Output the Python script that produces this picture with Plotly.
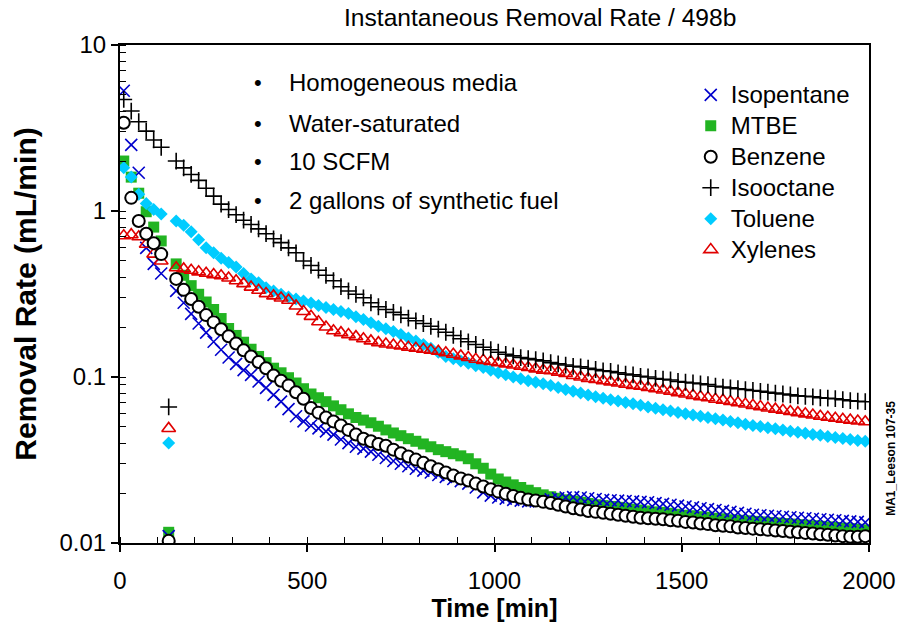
import plotly.graph_objects as go

# Time grid [min]
time_min = list(range(10, 2000, 20))

isopentane = [5.3, 2.5, 1.7, 0.6, 0.48, 0.42, 0.011, 0.33, 0.28, 0.24,
              0.21, 0.185, 0.163, 0.146, 0.131, 0.12, 0.11, 0.103, 0.094, 0.086,
              0.078, 0.071, 0.064, 0.058, 0.054, 0.051, 0.049, 0.047, 0.045, 0.042,
              0.04, 0.038, 0.037, 0.0355, 0.034, 0.0325, 0.0312, 0.030, 0.029, 0.028,
              0.0273, 0.0266, 0.0257, 0.025, 0.0243, 0.0236, 0.0228, 0.0216, 0.0202, 0.0193,
              0.0188, 0.0185, 0.0182, 0.018, 0.0178, 0.0178, 0.018, 0.0183, 0.0186, 0.0188,
              0.0189, 0.0188, 0.0186, 0.0184, 0.0182, 0.0181, 0.018, 0.0179, 0.0178, 0.0177,
              0.0176, 0.0174, 0.0172, 0.017, 0.0168, 0.0166, 0.0164, 0.0162, 0.016, 0.0158,
              0.0156, 0.0154, 0.0152, 0.015, 0.0148, 0.0147, 0.0146, 0.0145, 0.0144, 0.0143,
              0.0142, 0.0141, 0.014, 0.0139, 0.0138, 0.0137, 0.0136, 0.0135, 0.0134, 0.0133]

mtbe = [2.0, 1.6, 1.28, 0.99, 0.80, 0.66, 0.0116, 0.48, 0.41, 0.355,
        0.315, 0.283, 0.255, 0.225, 0.196, 0.178, 0.162, 0.147, 0.133, 0.122,
        0.113, 0.106, 0.099, 0.092, 0.085, 0.079, 0.075, 0.071, 0.067, 0.0635,
        0.060, 0.057, 0.055, 0.053, 0.0505, 0.048, 0.046, 0.0443, 0.0425, 0.041,
        0.0395, 0.038, 0.0365, 0.0355, 0.0345, 0.0335, 0.0322, 0.030, 0.0282, 0.026,
        0.0243, 0.0233, 0.0224, 0.0216, 0.0208, 0.0201, 0.0195, 0.019, 0.0186, 0.0182,
        0.0179, 0.0176, 0.0173, 0.017, 0.0168, 0.0166, 0.0164, 0.0162, 0.016, 0.0158,
        0.0156, 0.0154, 0.0153, 0.0151, 0.0149, 0.0147, 0.0146, 0.0144, 0.0143, 0.0141,
        0.014, 0.0138, 0.0137, 0.0136, 0.0135, 0.0134, 0.0133, 0.0132, 0.0131, 0.013,
        0.0129, 0.0128, 0.0127, 0.0126, 0.0125, 0.0124, 0.0123, 0.0122, 0.0121, 0.012]

benzene = [3.4, 1.2, 0.87, 0.73, 0.64, 0.55, 0.0103, 0.39, 0.335, 0.295,
           0.265, 0.236, 0.214, 0.194, 0.176, 0.159, 0.145, 0.133, 0.123, 0.113,
           0.102, 0.095, 0.089, 0.081, 0.074, 0.065, 0.061, 0.057, 0.054, 0.051,
           0.048, 0.045, 0.0425, 0.041, 0.0395, 0.0385, 0.0365, 0.0347, 0.0332, 0.0318,
           0.0304, 0.029, 0.0278, 0.0266, 0.0255, 0.0245, 0.0238, 0.0228, 0.0219, 0.0211,
           0.0204, 0.0198, 0.0192, 0.0187, 0.0183, 0.018, 0.0177, 0.0174, 0.017, 0.0166,
           0.0162, 0.0159, 0.0156, 0.0154, 0.0152, 0.015, 0.0148, 0.0146, 0.0144, 0.0142,
           0.0141, 0.014, 0.0139, 0.0137, 0.0136, 0.0134, 0.0133, 0.0131, 0.013, 0.0128,
           0.0127, 0.0126, 0.0124, 0.0123, 0.0122, 0.0121, 0.012, 0.0119, 0.0118, 0.0117,
           0.0116, 0.0115, 0.0114, 0.0113, 0.0112, 0.0111, 0.011, 0.0109, 0.0109, 0.011]

isooctane = [4.7, 4.0, 3.45, 3.03, 2.68, 2.42, 0.066, 2.0, 1.82, 1.66,
             1.53, 1.37, 1.23, 1.10, 1.02, 0.95, 0.88, 0.83, 0.78, 0.73,
             0.68, 0.645, 0.60, 0.56, 0.50, 0.47, 0.44, 0.41, 0.38, 0.35,
             0.33, 0.315, 0.30, 0.28, 0.265, 0.255, 0.245, 0.237, 0.226, 0.218,
             0.21, 0.202, 0.194, 0.186, 0.178, 0.170, 0.163, 0.157, 0.151, 0.146,
             0.141, 0.137, 0.134, 0.131, 0.129, 0.127, 0.125, 0.122, 0.120, 0.118,
             0.116, 0.115, 0.113, 0.111, 0.109, 0.108, 0.106, 0.104, 0.103, 0.101,
             0.100, 0.098, 0.097, 0.096, 0.094, 0.093, 0.092, 0.091, 0.090, 0.088,
             0.087, 0.086, 0.085, 0.084, 0.083, 0.082, 0.081, 0.080, 0.079, 0.078,
             0.077, 0.0765, 0.076, 0.075, 0.0745, 0.074, 0.073, 0.072, 0.0715, 0.071]

toluene = [1.82, 1.6, 1.26, 1.11, 1.02, 0.96, 0.040, 0.87, 0.82, 0.75,
           0.67, 0.60, 0.56, 0.52, 0.49, 0.46, 0.42, 0.39, 0.37, 0.345,
           0.33, 0.315, 0.303, 0.295, 0.287, 0.279, 0.27, 0.262, 0.255, 0.248,
           0.241, 0.231, 0.222, 0.212, 0.202, 0.195, 0.188, 0.18, 0.172, 0.165,
           0.157, 0.149, 0.141, 0.133, 0.129, 0.125, 0.121, 0.117, 0.114, 0.110,
           0.106, 0.103, 0.100, 0.0975, 0.095, 0.093, 0.091, 0.089, 0.0865, 0.084,
           0.082, 0.080, 0.078, 0.076, 0.0745, 0.073, 0.0717, 0.0703, 0.069, 0.0675,
           0.066, 0.0648, 0.0636, 0.0624, 0.0612, 0.060, 0.059, 0.058, 0.057, 0.056,
           0.055, 0.054, 0.053, 0.052, 0.051, 0.0503, 0.0495, 0.0488, 0.048, 0.0472,
           0.0465, 0.0458, 0.0451, 0.0445, 0.0438, 0.0432, 0.0426, 0.042, 0.0415, 0.041]

xylenes = [0.71, 0.72, 0.70, 0.63, 0.55, 0.50, 0.049, 0.455, 0.448, 0.44,
           0.43, 0.422, 0.414, 0.407, 0.395, 0.38, 0.365, 0.348, 0.333, 0.318,
           0.308, 0.299, 0.29, 0.268, 0.248, 0.232, 0.215, 0.20, 0.19, 0.185,
           0.18, 0.175, 0.17, 0.165, 0.161, 0.158, 0.156, 0.154, 0.151, 0.149,
           0.147, 0.145, 0.143, 0.14, 0.137, 0.134, 0.131, 0.128, 0.126, 0.124,
           0.122, 0.120, 0.118, 0.116, 0.114, 0.112, 0.110, 0.109, 0.107, 0.105,
           0.102, 0.100, 0.098, 0.0965, 0.095, 0.0935, 0.092, 0.0905, 0.089, 0.088,
           0.0865, 0.085, 0.0835, 0.082, 0.0805, 0.079, 0.0775, 0.076, 0.075, 0.0735,
           0.0725, 0.0712, 0.070, 0.0688, 0.0675, 0.0663, 0.065, 0.064, 0.063, 0.062,
           0.061, 0.060, 0.059, 0.058, 0.0572, 0.0564, 0.0557, 0.055, 0.0543, 0.0537]

FONT = "Arial, Liberation Sans, sans-serif"


def lg(name):
    return "<span style='font-size:24px'>%s</span>" % name


fig = go.Figure()

# drawing order (bottom -> top), legend order via legendrank
fig.add_trace(go.Scatter(x=time_min, y=mtbe, mode="markers", name=lg("MTBE"), legendrank=2,
                         marker=dict(symbol="square", size=11, color="#22B422")))
fig.add_trace(go.Scatter(x=time_min, y=isopentane, mode="markers", name=lg("Isopentane"), legendrank=1,
                         marker=dict(symbol="x-thin-open", size=12, color="#0000CC",
                                     line=dict(width=1.6, color="#0000CC"))))
fig.add_trace(go.Scatter(x=time_min, y=toluene, mode="markers", name=lg("Toluene"), legendrank=5,
                         marker=dict(symbol="diamond", size=10, color="#00CCFF")))
fig.add_trace(go.Scatter(x=time_min, y=xylenes, mode="markers", name=lg("Xylenes"), legendrank=6,
                         marker=dict(symbol="triangle-up-open", size=12, color="#E00000",
                                     line=dict(width=1.6, color="#E00000"))))
fig.add_trace(go.Scatter(x=time_min, y=benzene, mode="markers", name=lg("Benzene"), legendrank=3,
                         marker=dict(symbol="circle", size=12, color="white",
                                     line=dict(width=2, color="black"))))
fig.add_trace(go.Scatter(x=time_min, y=isooctane, mode="markers", name=lg("Isooctane"), legendrank=4,
                         marker=dict(symbol="cross-thin-open", size=12, color="black",
                                     line=dict(width=1.6, color="black"))))

bullets = ["Homogeneous media", "Water-saturated", "10 SCFM", "2 gallons of synthetic fuel"]
bullet_y = [0.924, 0.843, 0.767, 0.687]
annotations = []
for txt, yy in zip(bullets, bullet_y):
    annotations.append(dict(x=0.184, y=yy, xref="paper", yref="paper", text="•", showarrow=False,
                            xanchor="center", yanchor="middle", font=dict(family=FONT, size=22, color="black")))
    annotations.append(dict(x=0.223, y=yy, xref="paper", yref="paper", text=txt, showarrow=False,
                            xanchor="left", yanchor="middle", font=dict(family=FONT, size=24, color="black")))

annotations.append(dict(x=0.561, y=1.056, xref="paper", yref="paper",
                        text="Instantaneous Removal Rate / 498b", showarrow=False,
                        xanchor="center", yanchor="middle", font=dict(family=FONT, size=24.6, color="black")))
annotations.append(dict(x=1.03, y=0.17, xref="paper", yref="paper",
                        text="<b>MA1_Leeson 107-35</b>", showarrow=False, textangle=-90,
                        xanchor="center", yanchor="middle", font=dict(family=FONT, size=12, color="black")))

fig.update_layout(
    width=901, height=637,
    margin=dict(l=120, r=32, t=45, b=94, autoexpand=False),
    paper_bgcolor="white", plot_bgcolor="white",
    font=dict(family=FONT, color="black"),
    showlegend=True,
    legend=dict(x=0.762, y=0.941, xanchor="left", yanchor="top",
                font=dict(family=FONT, size=21.5, color="black"),
                bgcolor="rgba(0,0,0,0)", borderwidth=0, itemwidth=30),
    annotations=annotations,
)

fig.update_xaxes(range=[0, 2000], tickvals=[0, 500, 1000, 1500, 2000],
                 ticks="outside", ticklen=7, tickwidth=1.5, tickcolor="black",
                 minor=dict(dtick=100, ticks="inside", ticklen=6, tickwidth=1.2, tickcolor="black"),
                 showline=True, linewidth=2, linecolor="black", mirror=True,
                 showgrid=False, zeroline=False, automargin=False,
                 tickfont=dict(family=FONT, size=24, color="black"), ticklabelstandoff=8,
                 title=dict(text="<b>Time [min]</b>", font=dict(family=FONT, size=25, color="black"), standoff=6))

fig.update_yaxes(type="log", range=[-2, 1], tickvals=[0.01, 0.1, 1, 10],
                 ticktext=["0.01", "0.1", "1", "10"],
                 ticks="outside", ticklen=7, tickwidth=1.5, tickcolor="black",
                 minor=dict(ticks="inside", ticklen=6, tickwidth=1.2, tickcolor="black", dtick="D1"),
                 showline=True, linewidth=2, linecolor="black", mirror=True,
                 showgrid=False, zeroline=False, automargin=False,
                 tickfont=dict(family=FONT, size=24, color="black"),
                 title=dict(text="<b>Removal Rate (mL/min)</b>", font=dict(family=FONT, size=30, color="black"), standoff=14))

fig.write_html("out.html", config={"displayModeBar": False},
               post_script="document.body.style.margin='0';")
